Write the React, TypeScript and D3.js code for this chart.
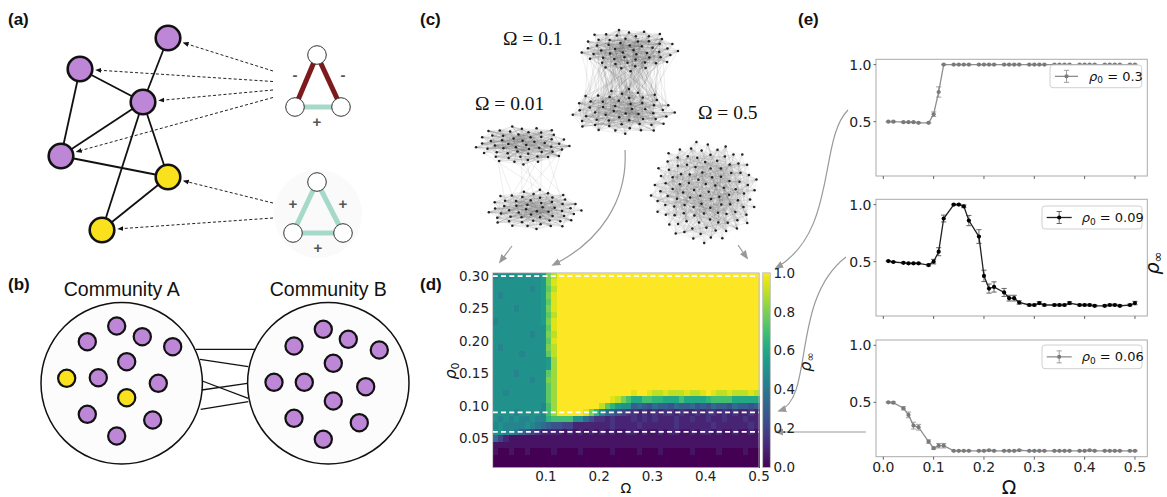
import React, { useRef, useEffect } from 'react';
import * as d3 from 'd3';

const WIDTH = 1167;
const HEIGHT = 497;

// ---------- (d) heatmap: rho_inf over (Omega, rho0)
const heatOmega = [
  0.01, 0.02, 0.03, 0.04, 0.05, 0.06, 0.07, 0.08, 0.09, 0.10,
  0.11, 0.12, 0.13, 0.14, 0.15, 0.16, 0.17, 0.18, 0.19, 0.20,
  0.21, 0.22, 0.23, 0.24, 0.25, 0.26, 0.27, 0.28, 0.29, 0.30,
  0.31, 0.32, 0.33, 0.34, 0.35, 0.36, 0.37, 0.38, 0.39, 0.40,
  0.41, 0.42, 0.43, 0.44, 0.45, 0.46, 0.47, 0.48, 0.49, 0.50,
];
const heatRho0 = [
  0.30, 0.29, 0.28, 0.27, 0.26, 0.25, 0.24, 0.23, 0.22, 0.21,
  0.20, 0.19, 0.18, 0.17, 0.16, 0.15, 0.14, 0.13, 0.12, 0.11,
  0.10, 0.09, 0.08, 0.07, 0.06, 0.05, 0.04, 0.03, 0.02, 0.01,
];
// one char per cell, level index * 0.05 (0 -> 0.0, A -> 0.5, K -> 1.0)
const LEVELS = '0123456789ABCDEFGHIJK';
const heatRows = [
  '9AA9AAAAAB GIKKKKKKKK KKKKKKKKKK KKKKKKKKKK KKKKKKKKKK',
  'AAAAAAAAAB GJKKKKKKKK KKKKKKKKKK KKKKKKKKKK KKKKKKKKKK',
  'AAAAAAA9AB FIKKKKKKKK KKKKKKKKKK KKKKKKKKKK KKKKKKKKKK',
  'A9AAAAAAAB GJKKKKKKKK KKKKKKKKKK KKKKKKKKKK KKKKKKKKKK',
  'AAAAAAAAAB FJKKKKKKKK KKKKKKKKKK KKKKKKKKKK KKKKKKKKKK',
  'AAAA9AAAAB GJKKKKKKKK KKKKKKKKKK KKKKKKKKKK KKKKKKKKKK',
  'AAAAAAAAAB FIKKKKKKKK KKKKKKKKKK KKKKKKKKKK KKKKKKKKKK',
  '9AAAAAAAAB GJKKKKKKKK KKKKKKKKKK KKKKKKKKKK KKKKKKKKKK',
  'AAAAAAAAAA FJKKKKKKKK KKKKKKKKKK KKKKKKKKKK KKKKKKKKKK',
  'AAAAAAA9AA GIKKKKKKKK KKKKKKKKKK KKKKKKKKKK KKKKKKKKKK',
  'AAAAAAAAAA FJKKKKKKKK KKKKKKKKKK KKKKKKKKKK KKKKKKKKKK',
  'A9AAAAAAAA GIKKKKKKKK KKKKKKKKKK KKKKKKKKKK KKKKKKKKKK',
  'AAAAA9AAAA FIKKKKKKKK KKKKKKKKKK KKKKKKKKKK KKKKKKKKKK',
  'AAAAAAAAAA BHKKKKKKKK KKKKKKKKKK KKKKKKKKKK KKKKKKKKKK',
  'AAAAAAAAAA BHKKKKKKKK KKKKKKKKKK KKKKKKKKKK KKKKKKKKKK',
  'AAAA9AAAAA FHKKKKKKKK KKKKKKKKKK KKKKKKKKKK KKKKKKKKKK',
  'AAAAAAA9AA GHKKKKKKKK KKKKKKKKKK KKKKKKKKKK KKKKKKKKKK',
  'AAAAAAAAAA FHKKKKKKKK KKKKKKKKKK KKKKKKKKKK KKKKKKKKKK',
  'AA9AAAAAAA FHKKKKKKKK KKKKKKJKKJ IIJIIIJIIJ KJIIJIIIJI',
  'AAAAAAAAAA FHKKKKKKKK KKJIGECCEE DDCCCECCCC DEEEECCCCC',
  'AAAAAAAAA9 EHKKKKKKKK IFDBAA6765 7665766756 5766576656',
  'AAAA9AAAA9 EHKKKKKJGD 9765433232 3233232232 3323232232',
  'A9A9A99A99 DEEEEAA753 3232223232 3222322322 3223222322',
  '9A9999A987 6554422222 2232222322 2222322222 2322222232',
  'AA99865432 2221212121 2121122121 1212211212 2121121121',
  '7421111111 1111111111 1111111111 1111111111 1111111111',
  '1111111111 1111111111 1111111111 1111111111 1111111111',
  '1001001000 0100001000 0010000100 0100000100 0010000100',
  '0000000000 0000000000 0000000000 0000000000 0000000000',
  '0000000000 0000000000 0000000000 0000000000 0000000000',
];
const dashedRho0 = [0.30, 0.09, 0.06];
const heatXTicks = [0.1, 0.2, 0.3, 0.4, 0.5];
const heatYTicks = [0.05, 0.10, 0.15, 0.20, 0.25, 0.30];
const cbarTicks = [0.0, 0.2, 0.4, 0.6, 0.8, 1.0];

// ---------- (e) rho_inf vs Omega, three cuts through (d)
const sweepOmega = [
  0.01, 0.02, 0.04, 0.05, 0.06, 0.07, 0.09, 0.10, 0.11, 0.12,
  0.14, 0.15, 0.16, 0.17, 0.19, 0.20, 0.21, 0.22, 0.24, 0.25,
  0.26, 0.27, 0.29, 0.30, 0.31, 0.32, 0.34, 0.35, 0.36, 0.37,
  0.39, 0.40, 0.41, 0.42, 0.44, 0.45, 0.46, 0.47, 0.49, 0.50,
];
const rhoInf030 = [
  0.50, 0.50, 0.495, 0.495, 0.495, 0.49, 0.49, 0.565, 0.76, 1.0,
  1.0, 1.0, 1.0, 1.0, 1.0, 1.0, 1.0, 1.0, 1.0, 1.0,
  1.0, 1.0, 1.0, 1.0, 1.0, 1.0, 1.0, 1.0, 1.0, 1.0,
  1.0, 1.0, 1.0, 1.0, 1.0, 1.0, 1.0, 1.0, 1.0, 1.0,
];
const err030 = [
  0.004, 0.004, 0.004, 0.004, 0.004, 0.004, 0.004, 0.02, 0.045, 0.003,
  0.003, 0.003, 0.003, 0.003, 0.003, 0.003, 0.003, 0.003, 0.003, 0.003,
  0.003, 0.003, 0.003, 0.003, 0.003, 0.003, 0.003, 0.003, 0.003, 0.003,
  0.003, 0.003, 0.003, 0.003, 0.003, 0.003, 0.003, 0.003, 0.003, 0.003,
];
const rhoInf009 = [
  0.505, 0.497, 0.49, 0.485, 0.485, 0.485, 0.47, 0.50, 0.587, 0.878,
  1.0, 1.0, 0.985, 0.86, 0.72, 0.375, 0.264, 0.278, 0.23, 0.18,
  0.18, 0.142, 0.12, 0.12, 0.137, 0.12, 0.12, 0.12, 0.12, 0.137,
  0.12, 0.12, 0.12, 0.113, 0.113, 0.12, 0.12, 0.113, 0.12, 0.137,
];
const err009 = [
  0.005, 0.005, 0.005, 0.005, 0.005, 0.005, 0.008, 0.02, 0.035, 0.03,
  0.005, 0.005, 0.012, 0.045, 0.06, 0.05, 0.04, 0.045, 0.035, 0.025,
  0.025, 0.015, 0.008, 0.008, 0.012, 0.008, 0.008, 0.008, 0.008, 0.012,
  0.008, 0.008, 0.008, 0.008, 0.008, 0.008, 0.008, 0.008, 0.008, 0.015,
];
const rhoInf006 = [
  0.50, 0.497, 0.448, 0.39, 0.296, 0.282, 0.156, 0.098, 0.12, 0.12,
  0.075, 0.075, 0.075, 0.075, 0.075, 0.075, 0.08, 0.075, 0.075, 0.075,
  0.075, 0.08, 0.075, 0.075, 0.075, 0.075, 0.075, 0.075, 0.075, 0.075,
  0.075, 0.075, 0.08, 0.075, 0.075, 0.075, 0.075, 0.075, 0.075, 0.075,
];
const err006 = [
  0.005, 0.008, 0.015, 0.025, 0.03, 0.025, 0.015, 0.01, 0.02, 0.02,
  0.004, 0.004, 0.004, 0.004, 0.004, 0.004, 0.004, 0.004, 0.004, 0.004,
  0.004, 0.004, 0.004, 0.004, 0.004, 0.004, 0.004, 0.004, 0.004, 0.004,
  0.004, 0.004, 0.004, 0.004, 0.004, 0.004, 0.004, 0.004, 0.004, 0.004,
];
const sweepLabels = ['0.3', '0.09', '0.06'];
const sweepXTicks = [0.0, 0.1, 0.2, 0.3, 0.4, 0.5];
const sweepYTicks = [0.5, 1.0];

// ---------- (a) schematic graph
const aNodes = [
  { id: 'p1', x: 168, y: 38, kind: 'purple' },
  { id: 'p2', x: 80, y: 69, kind: 'purple' },
  { id: 'p3', x: 143, y: 102, kind: 'purple' },
  { id: 'p4', x: 61, y: 156, kind: 'purple' },
  { id: 'y1', x: 168, y: 177, kind: 'yellow' },
  { id: 'y2', x: 102, y: 230, kind: 'yellow' },
];
const aEdges = [['p1', 'p3'], ['p2', 'p3'], ['p2', 'p4'], ['p3', 'p4'], ['p3', 'y1'], ['p3', 'y2'], ['p4', 'y1'], ['y1', 'y2']];
const aArrows = [
  { x: 273, y: 71, to: 'p1' }, { x: 273, y: 81.5, to: 'p2' }, { x: 273, y: 90, to: 'p3' },
  { x: 273, y: 97.5, to: 'p4' }, { x: 273, y: 203, to: 'y1' }, { x: 273, y: 218, to: 'y2' },
];
const triads = [
  { pts: [[317, 55], [295, 107], [341, 107]], signs: ['-', '-', '+'], labels: [[295, 74], [343, 74], [317, 121]] },
  { pts: [[317, 182], [293, 233], [343, 233]], signs: ['+', '+', '+'], labels: [[293, 203], [343, 203], [318, 247]] },
];

// ---------- (b) two communities
const commA = [
  [116.7, 326, 'p'], [87.3, 341.7, 'p'], [142.3, 336.7, 'p'], [172.7, 346.7, 'p'], [126.7, 361.7, 'p'],
  [66.7, 378.3, 'y'], [98.3, 377.7, 'p'], [158.3, 383.3, 'p'], [126.7, 397.7, 'y'], [87.3, 414.3, 'p'],
  [152.7, 420, 'p'], [116.7, 436, 'p'],
];
const commB = [
  [323.3, 329.3, 'p'], [294, 346, 'p'], [348.3, 339.3, 'p'], [379.3, 350, 'p'], [333.3, 363.3, 'p'],
  [274, 382.3, 'p'], [304.3, 382.3, 'p'], [365.7, 386.7, 'p'], [333.3, 401, 'p'], [294, 418.3, 'p'],
  [359.3, 422.7, 'p'], [323.3, 439.3, 'p'],
];
const bridges = [[196, 349.3, 255, 349.3], [200, 359.3, 248.3, 366.7], [202.3, 381, 248.3, 398.3], [201.7, 390, 247.3, 383.3], [200.7, 409.3, 248.3, 401.7]];

// ---------- (c) network snapshots
const snapshots = [
  { label: 'Ω = 0.01', lx: 475, ly: 110, intra: 0.22, inter: 0.006, alpha: 0.22, comms: [{ cx: 521.7, cy: 145, rx: 48, ry: 20 }, { cx: 534, cy: 209.7, rx: 49, ry: 20.3 }] },
  { label: 'Ω = 0.1', lx: 503, ly: 45, intra: 0.22, inter: 0.06, alpha: 0.22, comms: [{ cx: 628.8, cy: 50, rx: 49.5, ry: 21.7 }, { cx: 622.5, cy: 111.7, rx: 54, ry: 23.3 }] },
  { label: 'Ω = 0.5', lx: 698, ly: 119, intra: 0.14, inter: 0.14, alpha: 0.16, comms: [{ cx: 705, cy: 191.7, rx: 55, ry: 51.7 }] },
];

const PURPLE = '#bd86d6';
const YELLOW = '#f9e11e';
const SANS = '"Liberation Sans", Arial, Helvetica, sans-serif';
const MPL = '"DejaVu Sans", sans-serif';
const SERIF = '"Liberation Serif", "Times New Roman", serif';

const hash = (a: number, b: number) => {
  let h = Math.imul(a + 1, 374761393) ^ Math.imul(b + 7, 668265263);
  h = Math.imul(h ^ (h >>> 13), 1274126177);
  return ((h ^ (h >>> 16)) >>> 0) / 4294967296;
};

const App: React.FC = () => {
  const svgRef = useRef<SVGSVGElement>(null);

  useEffect(() => {
    if (!svgRef.current) return;
    const svg = d3.select(svgRef.current);
    svg.selectAll('*').remove();
    svg.append('rect').attr('width', WIDTH).attr('height', HEIGHT).attr('fill', '#fff');

    const defs = svg.append('defs');
    const addMarker = (id: string, color: string, size: number) => {
      defs.append('marker')
        .attr('id', id).attr('viewBox', '0 0 10 10').attr('refX', 8).attr('refY', 5)
        .attr('markerWidth', size).attr('markerHeight', size)
        .attr('markerUnits', 'userSpaceOnUse').attr('orient', 'auto')
        .append('path').attr('d', 'M0,1 L10,5 L0,9 z').attr('fill', color);
    };
    addMarker('headBlack', '#111', 6);
    addMarker('headGray', '#999', 9);

    // panel letters
    [['(a)', 8, 25], ['(b)', 8, 290], ['(c)', 420, 25], ['(d)', 420, 290], ['(e)', 798, 25]].forEach(([t, x, y]) => {
      svg.append('text').attr('x', x).attr('y', y).text(t as string)
        .attr('font-family', SANS).attr('font-weight', 'bold').attr('font-size', 17).attr('fill', '#111');
    });

    // ---------------- (a)
    const gA = svg.append('g');
    const byId = new Map(aNodes.map(d => [d.id, d]));
    gA.append('g').selectAll('line').data(aEdges).join('line')
      .attr('x1', d => byId.get(d[0])!.x).attr('y1', d => byId.get(d[0])!.y)
      .attr('x2', d => byId.get(d[1])!.x).attr('y2', d => byId.get(d[1])!.y)
      .attr('stroke', '#111').attr('stroke-width', 1.8);
    gA.append('g').selectAll('circle').data(aNodes).join('circle')
      .attr('cx', d => d.x).attr('cy', d => d.y).attr('r', 12.3)
      .attr('fill', d => d.kind === 'purple' ? PURPLE : YELLOW)
      .attr('stroke', '#111').attr('stroke-width', 2.6);
    gA.append('g').selectAll('line').data(aArrows).join('line')
      .each(function (d) {
        const n = byId.get(d.to)!;
        const dx = n.x - d.x, dy = n.y - d.y, len = Math.hypot(dx, dy);
        d3.select(this)
          .attr('x1', d.x).attr('y1', d.y)
          .attr('x2', n.x - dx / len * 16.5).attr('y2', n.y - dy / len * 16.5);
      })
      .attr('stroke', '#222').attr('stroke-width', 1).attr('stroke-dasharray', '3,2.2')
      .attr('marker-end', 'url(#headBlack)');

    // faint halo behind the balanced triad
    gA.append('circle').attr('cx', 318).attr('cy', 214).attr('r', 44).attr('fill', '#fafafa');
    triads.forEach(t => {
      const pairs = [[0, 1], [0, 2], [1, 2]];
      pairs.forEach(([i, j], k) => {
        gA.append('line')
          .attr('x1', t.pts[i][0]).attr('y1', t.pts[i][1]).attr('x2', t.pts[j][0]).attr('y2', t.pts[j][1])
          .attr('stroke', t.signs[k] === '-' ? '#7b1b1e' : '#a7d9cb').attr('stroke-width', 5);
        gA.append('text').attr('x', t.labels[k][0]).attr('y', t.labels[k][1])
          .attr('text-anchor', 'middle').attr('dominant-baseline', 'central')
          .attr('font-family', SANS).attr('font-weight', 'bold').attr('font-size', 15).attr('fill', '#555')
          .text(t.signs[k]);
      });
      t.pts.forEach(p => {
        gA.append('circle').attr('cx', p[0]).attr('cy', p[1]).attr('r', 9.3)
          .attr('fill', '#fff').attr('stroke', '#333').attr('stroke-width', 1);
      });
    });

    // ---------------- (b)
    const gB = svg.append('g');
    [[121.7, 'Community A'], [328.3, 'Community B']].forEach(([cx, label]) => {
      gB.append('circle').attr('cx', cx).attr('cy', 383.3).attr('r', 80.7)
        .attr('fill', '#fcfcfc').attr('stroke', '#111').attr('stroke-width', 1.5);
      gB.append('text').attr('x', cx).attr('y', 296).attr('text-anchor', 'middle')
        .attr('font-family', SANS).attr('font-size', 19.5).attr('fill', '#111').text(label as string);
    });
    gB.selectAll('line').data(bridges).join('line')
      .attr('x1', d => d[0]).attr('y1', d => d[1]).attr('x2', d => d[2]).attr('y2', d => d[3])
      .attr('stroke', '#111').attr('stroke-width', 1.3);
    gB.append('g').selectAll('circle').data([...commA, ...commB]).join('circle')
      .attr('cx', d => d[0] as number).attr('cy', d => d[1] as number).attr('r', 8.6)
      .attr('fill', d => d[2] === 'y' ? YELLOW : PURPLE).attr('stroke', '#111').attr('stroke-width', 2.2);

    // ---------------- (c)
    const gC = svg.append('g');
    snapshots.forEach((s, si) => {
      const nodes: { x: number; y: number; c: number }[] = [];
      s.comms.forEach((c, ci) => {
        const n = s.comms.length === 1 ? 110 : 56;
        for (let k = 0; k < n; k++) {
          const r = Math.sqrt((k + 0.5) / n);
          const th = k * 2.399963 + ci * 0.9;
          nodes.push({ x: c.cx + c.rx * r * Math.cos(th), y: c.cy + c.ry * r * Math.sin(th), c: ci });
        }
      });
      const links: [any, any][] = [];
      for (let i = 0; i < nodes.length; i++) {
        for (let j = i + 1; j < nodes.length; j++) {
          const p = nodes[i].c === nodes[j].c ? s.intra : s.inter;
          if (hash(i + si * 1000, j + si * 3000) < p) links.push([nodes[i], nodes[j]]);
        }
      }
      const g = gC.append('g');
      g.append('g').selectAll('line').data(links).join('line')
        .attr('x1', d => d[0].x).attr('y1', d => d[0].y).attr('x2', d => d[1].x).attr('y2', d => d[1].y)
        .attr('stroke', '#666').attr('stroke-opacity', s.alpha).attr('stroke-width', 0.5);
      g.append('g').selectAll('circle').data(nodes).join('circle')
        .attr('cx', d => d.x).attr('cy', d => d.y).attr('r', 1.25).attr('fill', '#222');
      g.append('text').attr('x', s.lx).attr('y', s.ly)
        .attr('font-family', SERIF).attr('font-size', 19.5).attr('fill', '#111').text(s.label);
    });

    // gray connector arrows between (c), (d), (e)
    const arrowPaths = [
      'M512,246 L500,262',
      'M625,150 C628,200 600,242 553,265',
      'M738,245 L747,258',
      'M848,110 C818,140 838,232 776,268',
      'M846,257 C790,300 815,398 779,411',
      'M866,432 L776,432',
    ];
    svg.append('g').selectAll('path').data(arrowPaths).join('path')
      .attr('d', d => d).attr('fill', 'none').attr('stroke', '#9a9a9a').attr('stroke-width', 1.2)
      .attr('marker-end', 'url(#headGray)');

    // ---------------- (d) heatmap
    const hx = d3.scaleLinear().domain([0, 0.5]).range([492.7, 759]);
    const hy = d3.scaleLinear().domain([0.005, 0.305]).range([467.5, 272.8]);
    const cells: { om: number; rho: number; v: number }[] = [];
    heatRows.forEach((row, j) => {
      const chars = row.replace(/ /g, '').split('');
      heatOmega.forEach((om, i) => {
        const ch = chars[Math.min(i, chars.length - 1)];
        cells.push({ om, rho: heatRho0[j], v: LEVELS.indexOf(ch) * 0.05 });
      });
    });
    const gD = svg.append('g');
    gD.append('g').attr('shape-rendering', 'crispEdges').selectAll('rect').data(cells).join('rect')
      .attr('x', d => hx(d.om - 0.01)).attr('y', d => hy(d.rho + 0.005))
      .attr('width', hx(0.01) - hx(0) + 0.6).attr('height', hy(0) - hy(0.01) + 0.6)
      .attr('fill', d => d3.interpolateViridis(d.v));
    gD.append('g').selectAll('line').data(dashedRho0).join('line')
      .attr('x1', hx(0)).attr('x2', hx(0.5)).attr('y1', d => hy(d)).attr('y2', d => hy(d))
      .attr('stroke', '#fff').attr('stroke-width', 1.8).attr('stroke-dasharray', '5,3.3');
    gD.append('rect').attr('x', hx(0)).attr('y', hy(0.305)).attr('width', hx(0.5) - hx(0)).attr('height', hy(0.005) - hy(0.305))
      .attr('fill', 'none').attr('stroke', '#bbb').attr('stroke-width', 0.8);

    const tickText = (g: any, x: number, y: number, t: string, anchor: string, size: number) =>
      g.append('text').attr('x', x).attr('y', y).attr('text-anchor', anchor)
        .attr('font-family', MPL).attr('font-size', size).attr('fill', '#222').text(t);

    heatYTicks.forEach(t => tickText(gD, 489, hy(t) + 4.8, t.toFixed(2), 'end', 13.5));
    heatXTicks.forEach(t => tickText(gD, hx(t), 480.7, t.toFixed(1), 'middle', 13.5));
    gD.append('text').attr('x', hx(0.25)).attr('y', 492.5).attr('text-anchor', 'middle')
      .attr('font-family', MPL).attr('font-size', 14).attr('fill', '#111').text('Ω');
    const rhoLabel = gD.append('text').attr('transform', 'translate(456,371) rotate(-90)')
      .attr('text-anchor', 'middle').attr('font-family', MPL).attr('font-size', 16).attr('fill', '#111');
    rhoLabel.append('tspan').attr('font-style', 'italic').text('ρ');
    rhoLabel.append('tspan').attr('font-size', 11).attr('dy', 3).text('0');

    // colorbar
    const grad = defs.append('linearGradient').attr('id', 'viridisBar')
      .attr('x1', 0).attr('y1', 1).attr('x2', 0).attr('y2', 0);
    d3.range(0, 1.0001, 0.05).forEach(t => {
      grad.append('stop').attr('offset', t).attr('stop-color', d3.interpolateViridis(t));
    });
    const cy = d3.scaleLinear().domain([0, 1]).range([hy(0.005), hy(0.305)]);
    gD.append('rect').attr('x', 762.7).attr('y', cy(1)).attr('width', 7.6).attr('height', cy(0) - cy(1))
      .attr('fill', 'url(#viridisBar)').attr('stroke', '#bbb').attr('stroke-width', 0.8);
    cbarTicks.forEach(t => tickText(gD, 773.5, cy(t) + 4.8, t.toFixed(1), 'start', 13.5));
    const cbLabel = gD.append('text').attr('transform', 'translate(811,362) rotate(-90)')
      .attr('text-anchor', 'middle').attr('font-family', MPL).attr('font-size', 16).attr('fill', '#111');
    cbLabel.append('tspan').attr('font-style', 'italic').text('ρ');
    cbLabel.append('tspan').attr('font-size', 11).attr('dy', 3).text('∞');

    // ---------------- (e) sweeps
    const ex = d3.scaleLinear().domain([-0.0145, 0.5245]).range([876, 1147.3]);
    const sweeps = [
      { values: rhoInf030, errs: err030, label: sweepLabels[0], top: 59.3, line: '#8e8e8e', dot: '#7a7a7a', bar: '#a0a0a0', lg: [1050, 65, 91.7, 22.7, 1055, 1078, 1089] },
      { values: rhoInf009, errs: err009, label: sweepLabels[1], top: 199.3, line: '#222', dot: '#000', bar: '#666', lg: [1042, 206, 100, 23, 1046.7, 1071.7, 1081.7] },
      { values: rhoInf006, errs: err006, label: sweepLabels[2], top: 340, line: '#8e8e8e', dot: '#7a7a7a', bar: '#a0a0a0', lg: [1042, 345, 100, 23.7, 1046.7, 1071.7, 1081.7] },
    ];
    sweeps.forEach((s, si) => {
      const bottom = s.top + 116.7;
      const ey = d3.scaleLinear().domain([0.0235, 1.0465]).range([bottom, s.top]);
      const g = svg.append('g');
      g.append('rect').attr('x', ex.range()[0]).attr('y', s.top)
        .attr('width', ex.range()[1] - ex.range()[0]).attr('height', bottom - s.top)
        .attr('fill', 'none').attr('stroke', '#aaa').attr('stroke-width', 1);
      sweepYTicks.forEach(t => {
        g.append('line').attr('x1', 873.5).attr('x2', 876).attr('y1', ey(t)).attr('y2', ey(t)).attr('stroke', '#666');
        tickText(g, 871.5, ey(t) + 5, t.toFixed(1), 'end', 14);
      });
      sweepXTicks.forEach(t => {
        g.append('line').attr('x1', ex(t)).attr('x2', ex(t)).attr('y1', bottom).attr('y2', bottom + 3).attr('stroke', '#666');
        if (si === 2) tickText(g, ex(t), bottom + 15.5, t.toFixed(1), 'middle', 14);
      });
      const pts = sweepOmega.map((om, i) => ({ om, v: s.values[i], e: s.errs[i] }));
      g.append('g').selectAll('g').data(pts).join('g').each(function (d) {
        const gg = d3.select(this);
        gg.append('line').attr('x1', ex(d.om)).attr('x2', ex(d.om)).attr('y1', ey(d.v - d.e)).attr('y2', ey(d.v + d.e))
          .attr('stroke', s.bar).attr('stroke-width', 1);
        [d.v - d.e, d.v + d.e].forEach(v => {
          gg.append('line').attr('x1', ex(d.om) - 2.6).attr('x2', ex(d.om) + 2.6).attr('y1', ey(v)).attr('y2', ey(v))
            .attr('stroke', s.bar).attr('stroke-width', 1);
        });
      });
      const line = d3.line<any>().x(d => ex(d.om)).y(d => ey(d.v));
      g.append('path').datum(pts).attr('d', line).attr('fill', 'none').attr('stroke', s.line).attr('stroke-width', 1.3);
      g.append('g').selectAll('circle').data(pts).join('circle')
        .attr('cx', d => ex(d.om)).attr('cy', d => ey(d.v)).attr('r', 2.1).attr('fill', s.dot);

      // legend
      const [bx, by, bw, bh, h1, h2, tx] = s.lg;
      const my = by + bh / 2;
      g.append('rect').attr('x', bx).attr('y', by).attr('width', bw).attr('height', bh).attr('rx', 3)
        .attr('fill', '#fff').attr('stroke', '#d0d0d0').attr('stroke-width', 1);
      g.append('line').attr('x1', h1).attr('x2', h2).attr('y1', my).attr('y2', my).attr('stroke', s.line).attr('stroke-width', 1.3);
      const hm = (h1 + h2) / 2;
      g.append('line').attr('x1', hm).attr('x2', hm).attr('y1', my - 6).attr('y2', my + 6).attr('stroke', s.bar);
      [my - 6, my + 6].forEach(yy => g.append('line').attr('x1', hm - 2.6).attr('x2', hm + 2.6).attr('y1', yy).attr('y2', yy).attr('stroke', s.bar));
      g.append('circle').attr('cx', hm).attr('cy', my).attr('r', 2.1).attr('fill', s.dot);
      const lt = g.append('text').attr('x', tx).attr('y', my + 4.5)
        .attr('font-family', MPL).attr('font-size', 13).attr('fill', '#111');
      lt.append('tspan').attr('font-style', 'italic').text('ρ');
      lt.append('tspan').attr('font-size', 9).attr('dy', 2.5).text('0');
      lt.append('tspan').attr('dy', -2.5).text(` = ${s.label}`);
    });

    svg.append('text').attr('x', ex(0.25)).attr('y', 494).attr('text-anchor', 'middle')
      .attr('font-family', MPL).attr('font-size', 19).attr('fill', '#111').text('Ω');
    const eLabel = svg.append('text').attr('transform', 'translate(1159,263) rotate(-90)')
      .attr('text-anchor', 'middle').attr('font-family', MPL).attr('font-size', 19).attr('fill', '#111');
    eLabel.append('tspan').attr('font-style', 'italic').text('ρ');
    eLabel.append('tspan').attr('font-size', 13).attr('dy', 3).text('∞');
  }, []);

  return (
    <svg
      ref={svgRef}
      width={WIDTH}
      height={HEIGHT}
      viewBox={`0 0 ${WIDTH} ${HEIGHT}`}
      style={{ position: 'absolute', left: 0, top: 0, background: '#fff' }}
    />
  );
};

export default App;
